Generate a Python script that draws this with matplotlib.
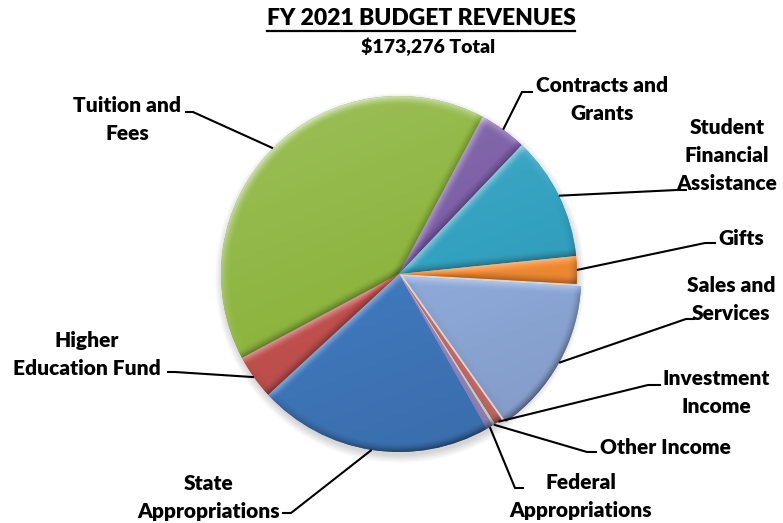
import numpy as np
import matplotlib
matplotlib.use("Agg")
import matplotlib.pyplot as plt
from matplotlib.colors import to_rgb
from matplotlib.patches import Circle

# ---- data -------------------------------------------------------------
categories = ["State\nAppropriations", "Higher\nEducation Fund", "Tuition and\nFees",
              "Contracts and\nGrants", "Student\nFinancial\nAssistance", "Gifts",
              "Sales and\nServices", "Investment\nIncome", "Other Income",
              "Federal\nAppropriations"]
revenues = [37013, 7028, 70321, 7509, 19542, 4332, 24836, 1250, 400, 1045]
title = "FY 2021 BUDGET REVENUES"
subtitle = "$173,276 Total"

# ---- styling ----------------------------------------------------------
colors = ["#3F78BC", "#C0504D", "#8DB53F", "#7A5CA4", "#33A1C0", "#F28B33",
          "#8FAADA", "#C66B68", "#D2D8C4", "#9586BC"]
explode = [0, 0, 0, 0, 0, 0, 5, 0, 0, 0]

W, H = 783, 523
CX, CY, R = 399, 274, 178          # pie centre / radius in pixel units
START = -60.4

FONT = dict(family="Lato", weight="heavy", color="black")
LABEL_SIZE = 15
LINE_GAP = 28

# label text centre x, first baseline y, elbow point, end point (pixels, y down)
label_layout = [
    (209, 490, (291, 513), (282, 513)),
    (87, 347, (175, 372), (167, 372)),
    (127, 112, (193, 112), (185, 112)),
    (602, 92, (522, 92), (533, 92)),
    (727, 134, (677, 190), (687, 190)),
    (741, 245, (705, 243), (716, 243)),
    (731, 292, (686, 319), (695, 319)),
    (716, 385, (648, 385), (661, 385)),
    (665, 454, (587, 452), (597, 452)),
    (581, 489, (515, 488), (524, 488)),
]


def Y(py):
    return H - py


fig = plt.figure(figsize=(W / 100, H / 100), dpi=100)
ax = fig.add_axes([0, 0, 1, 1])

# soft drop shadow under the pie
for i in range(14):
    ax.add_patch(Circle((CX + 1, Y(CY) - 4), R + 7 - i * 0.6,
                        facecolor="black", edgecolor="none", alpha=0.012, zorder=0))

wedges, _ = ax.pie(revenues, colors=colors, startangle=START, counterclock=False,
                   radius=R, center=(CX, Y(CY)), explode=explode,
                   wedgeprops=dict(linewidth=0, zorder=1))

light = np.array([-0.45, 0.85])
light = light / np.hypot(*light)


def shade_wedge(w, base, bevel=9.0):
    """Paint a bevelled gradient into a wedge, clipped to its outline."""
    cx, cy = w.center
    r = w.r
    t1, t2 = np.deg2rad(w.theta1), np.deg2rad(w.theta2)
    x0, x1 = cx - r - 2, cx + r + 2
    y0, y1 = cy - r - 2, cy + r + 2
    nx, ny = int(x1 - x0) * 2, int(y1 - y0) * 2
    X, Yg = np.meshgrid(np.linspace(x0, x1, nx), np.linspace(y0, y1, ny))
    dx, dy = X - cx, Yg - cy
    rho = np.hypot(dx, dy) + 1e-9

    d_rim = np.abs(r - rho)
    d_e1 = np.abs(-dx * np.sin(t1) + dy * np.cos(t1))
    d_e2 = np.abs(dx * np.sin(t2) - dy * np.cos(t2))

    s_rim = (dx / rho) * light[0] + (dy / rho) * light[1]
    s_e1 = np.sin(t1) * light[0] - np.cos(t1) * light[1]
    s_e2 = -np.sin(t2) * light[0] + np.cos(t2) * light[1]

    def ramp(d):
        return np.clip(1 - d / bevel, 0, 1) ** 1.6

    shade = ramp(d_rim) * s_rim + ramp(d_e1) * s_e1 * 0.8 + ramp(d_e2) * s_e2 * 0.8
    shade = np.clip(shade, -1, 1)
    body = 0.10 * (dy / r) - 0.04 * (dx / r)

    c = np.array(to_rgb(base))[None, None, :] * np.ones((ny, nx, 1))
    total = shade * 0.55 + body
    up = np.clip(total, 0, None)[..., None]
    dn = np.clip(-total, 0, None)[..., None]
    c = c + (1 - c) * up
    c = c * (1 - 0.75 * dn)
    img = ax.imshow(np.clip(c, 0, 1), extent=(x0, x1, y0, y1), origin="lower",
                    interpolation="bilinear", zorder=2)
    img.set_clip_path(w)


for w, col in zip(wedges, colors):
    shade_wedge(w, col)

# ---- labels and leader lines -----------------------------------------
for w, text, (tx, ty, elbow, end) in zip(wedges, categories, label_layout):
    mid = np.deg2rad(0.5 * (w.theta1 + w.theta2))
    sx = w.center[0] + w.r * np.cos(mid)
    sy = w.center[1] + w.r * np.sin(mid)
    ax.plot([sx, elbow[0], end[0]], [sy, Y(elbow[1]), Y(end[1])],
            color="black", lw=1.5, solid_capstyle="butt", zorder=3)
    for k, line in enumerate(text.split("\n")):
        ax.text(tx, Y(ty + k * LINE_GAP), line, ha="center", va="baseline",
                fontsize=LABEL_SIZE, zorder=4, **FONT)

# ---- titles -----------------------------------------------------------
t = ax.text(421, Y(25), title, ha="center", va="baseline", fontsize=16.5, **FONT)
ax.text(428, Y(53), subtitle, ha="center", va="baseline", fontsize=14, **FONT)

ax.set_xlim(0, W)
ax.set_ylim(0, H)
ax.set_aspect("equal")
ax.axis("off")

fig.canvas.draw()
bb = t.get_window_extent().transformed(ax.transData.inverted())
ax.plot([bb.x0, bb.x1], [Y(31), Y(31)], color="black", lw=1.6, zorder=4)

fig.savefig("out.png", dpi=100, facecolor="white")
